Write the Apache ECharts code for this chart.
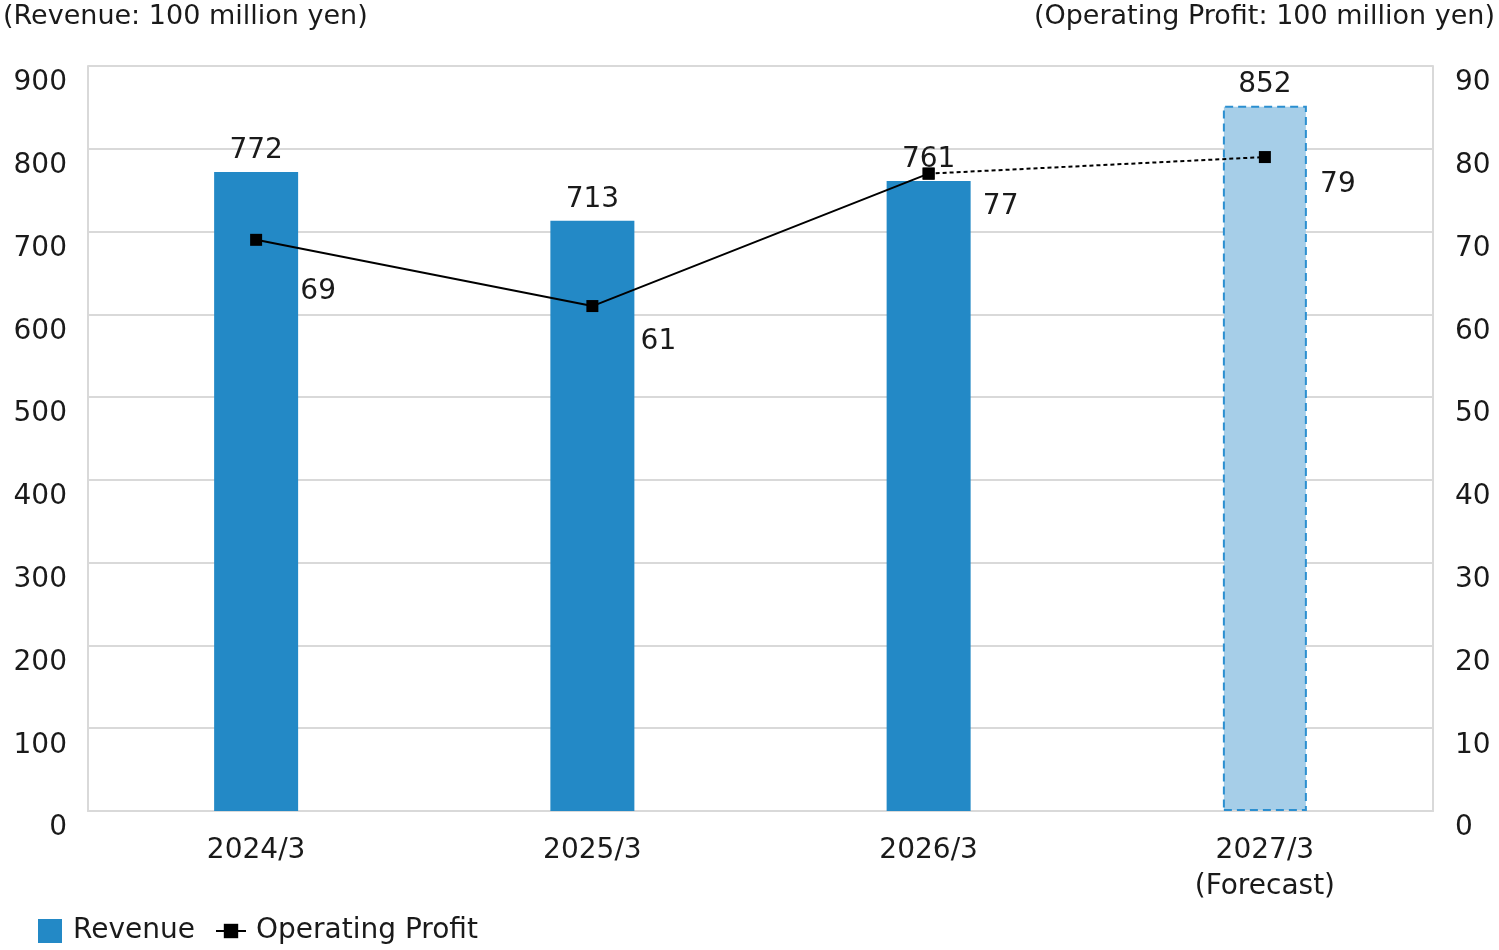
<!DOCTYPE html>
<html>
<head>
<meta charset="utf-8">
<script src="https://cdn.jsdelivr.net/npm/echarts@6/dist/echarts.min.js"></script>
<style>
  html, body { margin: 0; padding: 0; background: #fff; }
  #main { width: 1499px; height: 950px; }
</style>
</head>
<body>
<div id="main"></div>
<script>
const categories = ['2024/3', '2025/3', '2026/3', '2027/3\n(Forecast)'];
const revenue = [772, 713, 761, 852];
const operatingProfit = [69, 61, 77, 79];
const forecastIndex = 3;
// where each profit label sits relative to its point
const profitLabelOffsets = [[62, 52], [66, 36], [72, 33], [73, 28]];

const font = '"DejaVu Sans", "Noto Sans", sans-serif';
const textColor = '#1a1a1a';
const barBlue = '#2389c6';
const fs = 28;

const chart = echarts.init(document.getElementById('main'));

const revenueData = revenue.map((v, i) => i === forecastIndex ? {
    value: v,
    itemStyle: { color: '#a6cee8', borderColor: '#2b8fd0', borderWidth: 2, borderType: [8, 5] }
} : v);

const solidProfit = operatingProfit.map((v, i) => i < forecastIndex ? v : null);
const dottedProfit = operatingProfit.map((v, i) => i >= forecastIndex - 1 ? v : null);

const profitData = (arr, showFrom, showTo) => arr.map((v, i) => {
    if (v === null) return null;
    return {
        value: v,
        label: { show: i >= showFrom && i <= showTo, offset: profitLabelOffsets[i] }
    };
});

chart.setOption({
    animation: false,
    textStyle: { fontFamily: font },
    grid: { left: 88, right: 66, top: 66, bottom: 139, containLabel: false },
    graphic: [
        { type: 'text', left: 3, top: 3, style: { text: '(Revenue: 100 million yen)', font: '27px ' + font, fill: textColor } },
        { type: 'text', right: 4, top: 3, style: { text: '(Operating Profit: 100 million yen)', font: '27px ' + font, fill: textColor } }
    ],
    legend: [{
        data: ['Revenue'],
        left: 38, top: 917, padding: 0,
        itemWidth: 24, itemHeight: 24,
        icon: 'rect',
        textStyle: { fontSize: fs, color: textColor, fontFamily: font, padding: [0, 0, 0, 6] }
    }, {
        data: ['Operating Profit'],
        left: 215, top: 917, padding: 0,
        itemWidth: 30, itemHeight: 18,
        textStyle: { fontSize: fs, color: textColor, fontFamily: font, padding: [0, 0, 0, 5] }
    }],
    xAxis: {
        type: 'category',
        data: categories,
        axisLine: { show: true, lineStyle: { color: '#d9d9d9', width: 2 } },
        axisTick: { show: false },
        axisLabel: { fontSize: fs, color: textColor, lineHeight: 36, margin: 22, fontFamily: font }
    },
    yAxis: [{
        type: 'value',
        min: 0, max: 900, interval: 100,
        axisLine: { show: true, lineStyle: { color: '#d9d9d9', width: 2 } },
        splitLine: { lineStyle: { color: '#d9d9d9', width: 2 } },
        axisLabel: { fontSize: fs, color: textColor, margin: 21, verticalAlign: 'top', padding: [3, 0, 0, 0], fontFamily: font }
    }, {
        type: 'value',
        min: 0, max: 90, interval: 10,
        position: 'right',
        axisLine: { show: true, lineStyle: { color: '#d9d9d9', width: 2 } },
        splitLine: { show: false },
        axisLabel: { fontSize: fs, color: textColor, margin: 22, verticalAlign: 'top', align: 'left', padding: [3, 0, 0, 0], fontFamily: font }
    }],
    series: [{
        name: 'Revenue',
        type: 'bar',
        data: revenueData,
        barWidth: 84,
        itemStyle: { color: barBlue },
        label: { show: true, position: 'top', distance: 7, fontSize: fs, color: textColor, fontFamily: font },
        z: 2
    }, {
        name: 'Operating Profit',
        type: 'line',
        yAxisIndex: 1,
        data: profitData(solidProfit, 0, 2),
        symbol: 'rect',
        symbolSize: 12,
        lineStyle: { color: '#000', width: 2 },
        itemStyle: { color: '#000' },
        label: { position: 'inside', fontSize: fs, color: textColor, fontFamily: font },
        z: 5
    }, {
        name: 'Operating Profit',
        type: 'line',
        yAxisIndex: 1,
        data: profitData(dottedProfit, 3, 3),
        symbol: 'rect',
        symbolSize: 12,
        lineStyle: { color: '#000', width: 2, type: [4, 3] },
        itemStyle: { color: '#000' },
        label: { position: 'inside', fontSize: fs, color: textColor, fontFamily: font },
        z: 4
    }]
});
</script>
</body>
</html>
